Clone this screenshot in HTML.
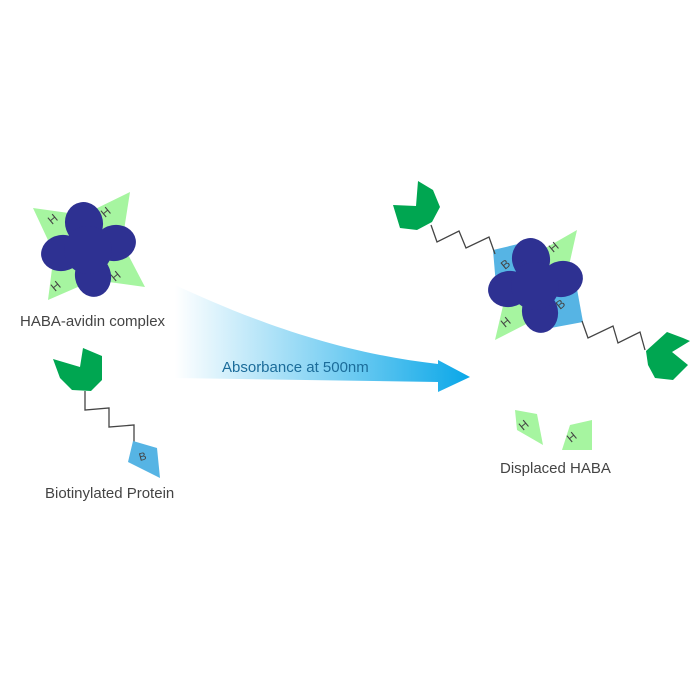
<!DOCTYPE html>
<html><head><style>body{margin:0;background:#fff}svg{display:block}</style></head><body>
<svg width="700" height="700" viewBox="0 0 700 700" xmlns="http://www.w3.org/2000/svg" font-family="Liberation Sans, sans-serif">
<defs>
<linearGradient id="g" x1="0" x2="1" y1="0" y2="0">
<stop offset="0" stop-color="#ffffff"/><stop offset="1" stop-color="#0aa7e8"/>
</linearGradient>
<g id="fl" fill="#2e3192">
<ellipse cx="-4" cy="-30" rx="19" ry="21" transform="rotate(-10 -4 -30)"/>
<ellipse cx="-26" cy="0" rx="21" ry="18" transform="rotate(-10 -26 0)"/>
<ellipse cx="27" cy="-10" rx="21" ry="18" transform="rotate(-10 27 -10)"/>
<ellipse cx="5" cy="23" rx="18" ry="21" transform="rotate(-10 5 23)"/>
<circle cx="0" cy="-3" r="24"/>
</g>
</defs>
<!-- left complex -->
<polygon points="130,192 83,215 33,208 54,253 48,300 94,280 145,287 122,243" fill="#a6f5a0"/>
<g font-size="12" fill="#444">
<text x="52" y="225" transform="rotate(-40 52 225)">H</text>
<text x="105" y="218" transform="rotate(-40 105 218)">H</text>
<text x="55" y="292" transform="rotate(-40 55 292)">H</text>
<text x="115" y="282" transform="rotate(-40 115 282)">H</text>
</g>
<use href="#fl" x="88" y="253"/>
<text x="20" y="326" font-size="15" fill="#444">HABA-avidin complex</text>
<!-- biotinylated protein -->
<polygon points="53,359 80,367 83,348 102,356 102,380 91,391 72,390 60,378" fill="#00a651"/>
<polyline points="85,391 85,410 109,408 109,427 134,425 134,442" fill="none" stroke="#444" stroke-width="1.3"/>
<polygon points="133,441 157,448 160,478 128,462" fill="#56b4e4"/>
<text x="140" y="461" font-size="11" fill="#444" transform="rotate(-15 140 461)">B</text>
<text x="45" y="498" font-size="15" fill="#444">Biotinylated Protein</text>
<!-- arrow -->
<path d="M175,285 C240,315 330,352 438,364 L438,360 L470,377 L438,392 L438,382 L175,378 Z" fill="url(#g)"/>
<text x="222" y="372" font-size="15" fill="#1b6c9a">Absorbance at 500nm</text>
<!-- right complex -->
<polygon points="577,230 535,254 493,250 506,293 495,340 538,318 583,322 566,279" fill="#a6f5a0"/>
<polygon points="493,250 535,240 535,287 497,297" fill="#56b4e4"/>
<polygon points="535,287 575,278 583,322 540,330" fill="#56b4e4"/>
<g font-size="12" fill="#444">
<text x="505" y="270" transform="rotate(-40 505 270)">B</text>
<text x="553" y="253" transform="rotate(-40 553 253)">H</text>
<text x="505" y="328" transform="rotate(-40 505 328)">H</text>
<text x="560" y="310" transform="rotate(-40 560 310)">B</text>
</g>
<use href="#fl" x="535" y="289"/>
<polyline points="431,225 437,242 459,231 466,248 489,237 495,254" fill="none" stroke="#444" stroke-width="1.3"/>
<polyline points="582,321 588,338 613,326 618,343 640,332 645,350" fill="none" stroke="#444" stroke-width="1.3"/>
<polygon points="393,205 416,206 418,181 433,190 440,207 432,222 417,230 400,228" fill="#00a651"/>
<polygon points="646,351 667,332 683,338 690,341 672,352 688,365 673,380 655,378 648,365" fill="#00a651"/>
<!-- displaced haba -->
<polygon points="515,410 537,414 543,445 517,430" fill="#a6f5a0"/>
<polygon points="570,425 592,420 592,450 562,450" fill="#a6f5a0"/>
<g font-size="12" fill="#444">
<text x="523" y="431" transform="rotate(-40 523 431)">H</text>
<text x="571" y="443" transform="rotate(-40 571 443)">H</text>
</g>
<text x="500" y="473" font-size="15" fill="#444">Displaced HABA</text>
</svg>
</body></html>
